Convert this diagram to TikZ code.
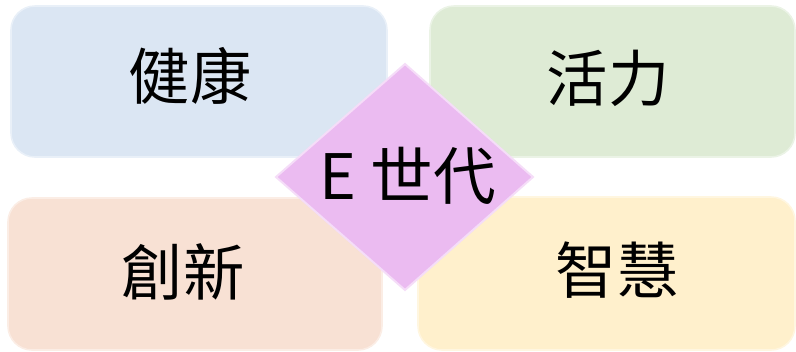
\documentclass[tikz,border=0pt]{standalone}
\usepackage{fontspec}
\newfontfamily\cjk{Noto Sans CJK TC}
\usetikzlibrary{shapes.geometric,calc}
\definecolor{cblue}{HTML}{DBE6F3}
\definecolor{cgreen}{HTML}{DEEBD5}
\definecolor{cpeach}{HTML}{F8E1D4}
\definecolor{cyellow}{HTML}{FFF0CC}
\definecolor{cpink}{HTML}{EBBBF1}
\begin{document}
\begin{tikzpicture}[x=0.75pt,y=-0.75pt,
  card/.style={rounded corners=18pt, line width=1.2pt},
  lbl/.style={font=\cjk\fontsize{46}{52}\selectfont, inner sep=0pt}]
\useasboundingbox (0,0) rectangle (796,351);
% cards
\filldraw[card, fill=cblue, draw=cblue!60!white] (11,6) rectangle (387,157);
\filldraw[card, fill=cgreen, draw=cgreen!60!white] (430,6) rectangle (795,157);
\filldraw[card, fill=cpeach, draw=cpeach!60!white] (8,198) rectangle (382,350);
\filldraw[card, fill=cyellow, draw=cyellow!60!white] (418,197) rectangle (795,350);
\node[lbl] (a) at (190,76) {健康};
\node[lbl] (b) at (608,78) {活力};
\node[lbl] (c) at (183,272) {創新};
\node[lbl] (d) at (617,270) {智慧};
% diamond
\coordinate (dt) at (405,64);
\coordinate (dl) at (276,177);
\coordinate (dr) at (533,177);
\coordinate (db) at (405,290);
\filldraw[fill=cpink, draw=cpink!50!white, line width=1.5pt, line join=miter] (dt) -- (dr) -- (db) -- (dl) -- cycle;
\node[lbl, font=\cjk\fontsize{47}{52}\selectfont] (e) at (408,176) {E 世代};
\end{tikzpicture}
\end{document}
